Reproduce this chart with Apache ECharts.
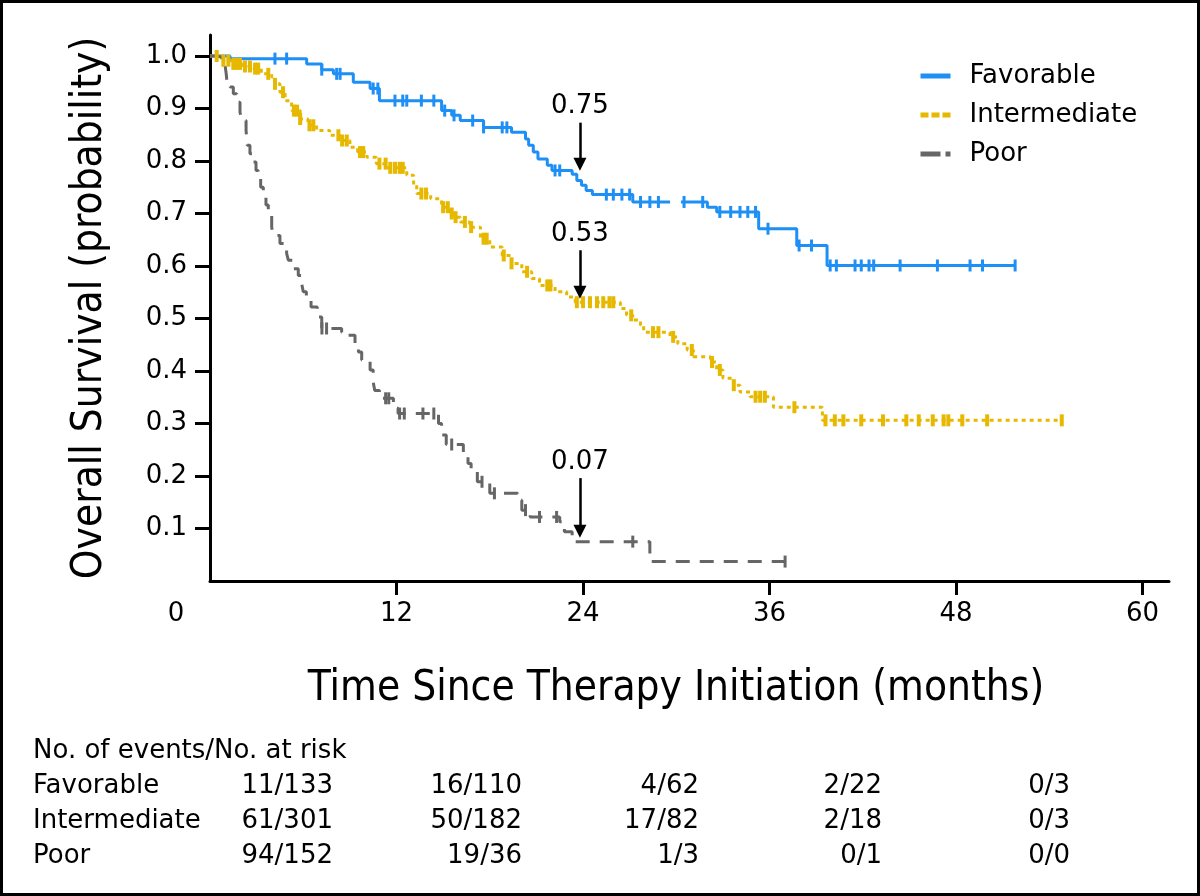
<!DOCTYPE html>
<html><head><meta charset="utf-8">
<script src="https://cdn.jsdelivr.net/npm/echarts@6/dist/echarts.min.js"></script>
<style>html,body{margin:0;padding:0;background:#fff}#c{width:1200px;height:896px}</style>
</head><body><div id="c"></div>
<script>
// ---------- data ----------
const xTicks = [0, 12, 24, 36, 48, 60];
const yTicks = [0.1, 0.2, 0.3, 0.4, 0.5, 0.6, 0.7, 0.8, 0.9, 1.0];
const groupNames = ['Favorable', 'Intermediate', 'Poor'];

const favT = [0, 1.29, 6.22, 7.19, 7.94, 9.22, 10.3, 10.9, 14.9, 15.55, 16.1, 17.6, 19.4, 20.3, 20.5, 20.8, 21.1, 21.7, 22.0, 23.3, 23.6, 23.9, 24.2, 24.6, 27.2, 29.1, 29.6, 30.3, 32.0, 32.6, 35.3, 37.75, 39.7, 51.8];
const favS = [1.0, 0.995, 0.985, 0.974, 0.966, 0.950, 0.938, 0.915, 0.896, 0.887, 0.877, 0.864, 0.855, 0.842, 0.830, 0.817, 0.804, 0.792, 0.782, 0.775, 0.763, 0.754, 0.744, 0.736, 0.722, 0.722, null, 0.722, 0.712, 0.703, 0.671, 0.639, 0.601, 0.601];
const favCensor = [4.18, 4.93, 7.19, 8.15, 8.37, 10.5, 10.8, 11.9, 12.4, 12.66, 13.6, 14.4, 15.1, 15.7, 16.9, 17.6, 18.8, 19.1, 22.2, 22.5, 25.5, 25.95, 26.5, 27.0, 27.7, 28.3, 28.85, 30.5, 31.7, 32.8, 33.5, 34.1, 34.6, 35.1, 35.9, 37.9, 38.7, 39.9, 40.3, 41.5, 41.9, 42.4, 42.7, 44.4, 46.8, 48.9, 49.7, 51.8];

const intT = [0, 0.86, 1.4, 2.15, 2.8, 3.3, 3.97, 4.18, 4.5, 4.83, 5.25, 5.8, 6.3, 6.86, 7.7, 8.37, 9.0, 9.5, 10.1, 10.7, 11.4, 12.66, 13.1, 13.3, 14.2, 14.9, 15.4, 15.65, 16.1, 16.7, 17.4, 18.0, 18.8, 19.4, 20.06, 20.7, 21.2, 22.2, 22.95, 23.5, 26.4, 26.8, 27.2, 27.7, 27.9, 29.6, 30.1, 30.7, 31.1, 32.2, 32.6, 33.0, 33.7, 34.1, 34.75, 36.25, 39.4, 54.8];
const intS = [1.0, 0.991, 0.985, 0.980, 0.976, 0.966, 0.960, 0.947, 0.931, 0.915, 0.896, 0.880, 0.868, 0.858, 0.849, 0.839, 0.826, 0.817, 0.807, 0.795, 0.787, 0.773, 0.754, 0.738, 0.728, 0.712, 0.700, 0.693, 0.684, 0.674, 0.652, 0.636, 0.620, 0.605, 0.589, 0.576, 0.563, 0.551, 0.541, 0.531, 0.519, 0.506, 0.497, 0.487, 0.474, 0.465, 0.452, 0.440, 0.427, 0.417, 0.402, 0.386, 0.373, 0.360, 0.351, 0.331, 0.306, 0.306];
const intCensor = [0.43, 0.86, 1.18, 1.5, 1.72, 1.93, 2.25, 2.57, 2.9, 3.1, 3.75, 4.18, 4.7, 5.4, 5.6, 5.8, 6.4, 6.65, 8.26, 8.5, 8.8, 9.65, 9.86, 10.9, 11.3, 11.6, 11.9, 12.2, 12.4, 13.6, 13.9, 15.0, 15.3, 15.55, 15.8, 16.4, 16.8, 17.6, 17.8, 18.9, 19.4, 20.4, 21.7, 21.9, 23.6, 24.0, 24.45, 24.9, 25.3, 25.7, 25.95, 27.1, 28.5, 28.85, 29.8, 31.0, 32.3, 32.8, 33.7, 35.1, 35.4, 35.7, 37.6, 39.6, 40.2, 40.75, 41.9, 43.3, 44.8, 45.6, 46.5, 47.2, 47.5, 48.4, 50.0, 54.8];

const poorT = [0, 0.32, 0.75, 0.97, 1.03, 1.1, 1.29, 1.5, 1.72, 1.93, 2.04, 2.32, 2.4, 2.57, 2.8, 2.96, 3.1, 3.26, 3.43, 3.6, 3.75, 3.97, 4.07, 4.5, 4.93, 5.04, 5.36, 5.68, 5.9, 6.0, 6.2, 6.5, 6.9, 7.19, 8.47, 8.8, 9.33, 9.55, 9.76, 10.3, 10.5, 10.6, 10.9, 11.8, 12.1, 14.7, 14.9, 15.2, 16.3, 16.6, 16.8, 17.2, 18.0, 19.8, 20.06, 20.6, 22.5, 22.8, 23.3, 28.3, 37.0];
const poorS = [1.0, 0.998, 0.991, 0.982, 0.969, 0.950, 0.941, 0.928, 0.912, 0.893, 0.877, 0.858, 0.830, 0.814, 0.798, 0.782, 0.766, 0.750, 0.731, 0.716, 0.700, 0.674, 0.658, 0.643, 0.624, 0.611, 0.595, 0.582, 0.566, 0.551, 0.535, 0.522, 0.503, 0.481, 0.474, 0.468, 0.452, 0.436, 0.421, 0.402, 0.379, 0.363, 0.348, 0.329, 0.319, 0.300, 0.278, 0.260, 0.240, 0.224, 0.208, 0.189, 0.167, 0.154, 0.135, 0.122, 0.113, 0.094, 0.075, 0.037, 0.037];
const poorCensor = [7.2, 7.5, 11.3, 11.5, 12.2, 12.5, 13.7, 14.4, 15.55, 17.5, 18.3, 20.3, 21.2, 22.3, 27.2, 37.0];

const annotLabels = ['0.75', '0.53', '0.07'];

const riskHeader = 'No. of events/No. at risk';
const riskFavorable = ['11/133', '16/110', '4/62', '2/22', '0/3'];
const riskIntermediate = ['61/301', '50/182', '17/82', '2/18', '0/3'];
const riskPoor = ['94/152', '19/36', '1/3', '0/1', '0/0'];

// ---------- helpers ----------
function toPairs(T, S) { return T.map((t, i) => [t, S[i] === null ? '-' : S[i]]); }
function survAt(T, S, t) {
  let v = null;
  for (let i = 0; i < T.length; i++) {
    if (T[i] > t) break;
    if (S[i] !== null) v = S[i];
  }
  return v;
}
function censorPairs(C, T, S) { return C.map(t => [t, survAt(T, S, t)]); }

const FONT = 'DejaVu Sans';
const TITLE_FONT = '"DejaVu Sans Condensed", sans-serif';
const colors = ['#1e8ff5', '#e6b800', '#666666'];
const lineTypes = ['solid', [4, 4], [14, 10]];
const curves = [[favT, favS, favCensor], [intT, intS, intCensor], [poorT, poorS, poorCensor]];
const arrowX = 23.8;
const arrowYs = [[0.873, 0.794], [0.630, 0.550], [0.196, 0.095]];

const series = [];
curves.forEach((c, i) => {
  series.push({
    name: groupNames[i], type: 'line', step: 'end', showSymbol: false, symbol: 'none',
    data: toPairs(c[0], c[1]), z: 2, silent: true,
    lineStyle: { color: colors[i], width: 3, type: lineTypes[i] },
    itemStyle: { color: colors[i] },
    markLine: {
      silent: true, animation: false,
      symbol: ['none', 'triangle'], symbolSize: 13,
      lineStyle: { color: '#000', width: 2.5, type: 'solid' },
      itemStyle: { color: '#000' },
      label: { show: true, position: 'start', formatter: annotLabels[i], color: '#000', fontSize: 26, fontFamily: FONT, distance: 3 },
      data: [[{ coord: [arrowX, arrowYs[i][0]] }, { coord: [arrowX, arrowYs[i][1]] }]]
    }
  });
});
curves.forEach((c, i) => {
  series.push({
    name: groupNames[i] + ' censored', type: 'scatter', symbol: 'rect',
    symbolSize: i === 1 ? [4, 12] : [3, 12], z: 3, silent: true,
    itemStyle: { color: colors[i], opacity: 1 },
    data: censorPairs(c[2], c[0], c[1])
  });
});

const riskRows = [riskFavorable, riskIntermediate, riskPoor];
const rowY = [751, 786, 821, 856];
const colRight = [333, 522, 699, 882, 1070];
const graphics = [
  { type: 'rect', shape: { x: 1.5, y: 1.5, width: 1197, height: 893 }, style: { fill: 'none', stroke: '#000', lineWidth: 3 }, silent: true },
  { type: 'text', x: 33, y: rowY[0], style: { text: riskHeader, fontSize: 26, fontFamily: FONT, fill: '#000', align: 'left', verticalAlign: 'middle' } }
];
riskRows.forEach((row, r) => {
  graphics.push({ type: 'text', x: 33, y: rowY[r + 1], style: { text: groupNames[r], fontSize: 26, fontFamily: FONT, fill: '#000', align: 'left', verticalAlign: 'middle' } });
  row.forEach((v, k) => {
    graphics.push({ type: 'text', x: colRight[k], y: rowY[r + 1], style: { text: v, fontSize: 26, fontFamily: FONT, fill: '#000', align: 'right', verticalAlign: 'middle' } });
  });
});

const chart = echarts.init(document.getElementById('c'), null, { renderer: 'canvas' });
chart.setOption({
  animation: false,
  backgroundColor: '#fff',
  grid: { left: 210, right: 31, top: 35, bottom: 315, containLabel: false, outerBoundsMode: 'none' },
  xAxis: {
    type: 'value', min: 0, max: 61.7,
    name: 'Time Since Therapy Initiation (months)', nameLocation: 'middle', nameGap: 87,
    nameTextStyle: { fontSize: 42, fontFamily: TITLE_FONT, color: '#000', padding: [0, 27, 0, 0] },
    axisLine: { show: true, lineStyle: { color: '#000', width: 3 } },
    axisTick: { show: true, customValues: xTicks.slice(1), length: 14, lineStyle: { color: '#000', width: 3 } },
    axisLabel: {
      customValues: xTicks, margin: 20, fontSize: 26, fontFamily: FONT, color: '#000',
      formatter: v => (v === 0 ? '{z|0}' : String(v)),
      rich: { z: { fontSize: 26, fontFamily: FONT, color: '#000', padding: [0, 68, 0, 0] } }
    },
    splitLine: { show: false }
  },
  yAxis: {
    type: 'value', min: 0, max: 1.04,
    name: 'Overall Survival (probability)', nameLocation: 'middle', nameGap: 99, nameRotate: 90,
    nameTextStyle: { fontSize: 42, fontFamily: TITLE_FONT, color: '#000' },
    axisLine: { show: true, lineStyle: { color: '#000', width: 3 } },
    axisTick: { show: true, customValues: yTicks, length: 15, lineStyle: { color: '#000', width: 3 } },
    axisLabel: { customValues: yTicks, margin: 23, fontSize: 26, fontFamily: FONT, color: '#000', formatter: v => v.toFixed(1) },
    splitLine: { show: false }
  },
  legend: {
    data: [
      { name: 'Favorable' },
      { name: 'Intermediate', lineStyle: { type: [8, 3] } },
      { name: 'Poor', lineStyle: { type: [20, 5] } }
    ],
    orient: 'vertical', left: 913, top: 58,
    itemWidth: 30, itemHeight: 14, itemGap: 13,
    lineStyle: { width: 5 },
    itemStyle: { opacity: 0, borderWidth: 0 },
    textStyle: { fontSize: 26, fontFamily: FONT, color: '#000', padding: [0, 0, 0, 14] },
    selectedMode: false
  },
  graphic: graphics,
  series: series
});
</script>
</body></html>
